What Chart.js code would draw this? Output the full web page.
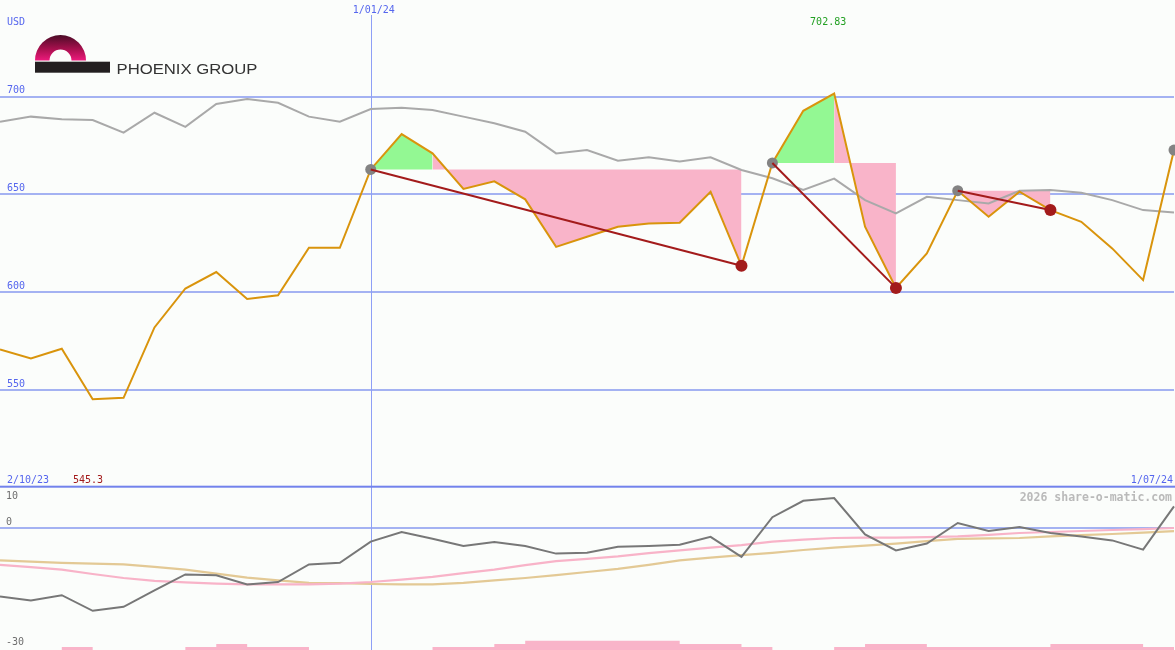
<!DOCTYPE html>
<html>
<head>
<meta charset="utf-8">
<script src="https://cdn.jsdelivr.net/npm/chart.js@4.4.1/dist/chart.umd.min.js"></script>
<style>
html,body{margin:0;padding:0;background:#fbfdfb;}
#wrap{position:relative;width:1175px;height:650px;overflow:hidden;background:#fbfdfb;}
#top{position:absolute;left:0;top:0;width:1175px;height:485px;}
#bot{position:absolute;left:0;top:485px;width:1175px;height:165px;}
#logo{position:absolute;left:0;top:0;}
</style>
</head>
<body>
<div id="wrap">
<canvas id="top" width="1175" height="485"></canvas>
<canvas id="bot" width="1175" height="165"></canvas>
<svg id="logo" width="280" height="85" viewBox="0 0 280 85">
  <defs>
    <linearGradient id="arch" x1="0" y1="35" x2="0" y2="60.5" gradientUnits="userSpaceOnUse">
      <stop offset="0" stop-color="#4a0c26"/>
      <stop offset="0.55" stop-color="#a8104e"/>
      <stop offset="1" stop-color="#ec1a7c"/>
    </linearGradient>
  </defs>
  <path d="M35,60.5 A25.5,25.5 0 0 1 86,60.5 L71.5,60.5 A11,11 0 0 0 49.5,60.5 Z" fill="url(#arch)"/>
  <rect x="35" y="61.7" width="75" height="11" fill="#231f20"/>
  <text x="116.5" y="74" font-family="Liberation Sans, Arial, sans-serif" font-size="15.5" fill="#333333" textLength="141" lengthAdjust="spacingAndGlyphs">PHOENIX GROUP</text>
</svg>
</div>
<script>
// ---------- data ----------
const categories = ['0','1','2','3','4','5','6','7','8','9','10','11','12','13','14','15','16','17','18','19',
  '20','21','22','23','24','25','26','27','28','29','30','31','32','33','34','35','36','37','38'];
const close = [570.7, 566.1, 571.1, 545.3, 546.0, 582.0, 601.9, 610.3, 596.5, 598.4, 622.7, 622.7,
  662.8, 680.9, 671.0, 652.8, 656.7, 647.5, 623.2, 628.4, 633.5, 635.2, 635.5, 651.4, 613.5,
  666.1, 692.8, 701.6, 633.5, 602.2, 619.8, 651.9, 638.6, 651.4, 642.0, 636.0, 622.4, 606.2, 672.7];
const movingAvg = [687.2, 689.8, 688.4, 688.1, 681.6, 691.8, 684.6, 696.3, 698.8, 696.9, 689.8, 687.2,
  693.7, 694.4, 693.2, 689.8, 686.4, 682.1, 671.0, 672.7, 667.2, 669.0, 666.9, 669.0, 662.5,
  658.3, 652.3, 658.1, 647.1, 640.3, 648.8, 647.1, 645.4, 651.9, 652.3, 650.9, 647.1, 642.0, 640.8];
const oscillator = [-17.1, -18.1, -16.8, -20.7, -19.7, -15.6, -11.6, -11.8, -14.1, -13.5, -9.1, -8.7,
  -3.4, -1.0, -2.7, -4.5, -3.5, -4.5, -6.4, -6.2, -4.7, -4.5, -4.2, -2.2, -7.2,
  2.7, 6.8, 7.5, -1.6, -5.6, -3.9, 1.25, -0.75, 0.25, -1.25, -2.1, -3.1, -5.4, 5.4];
const signalPink = [-9.2, -9.8, -10.4, -11.5, -12.5, -13.2, -13.6, -13.9, -14.1, -14.1, -14.1, -13.9,
  -13.5, -12.9, -12.2, -11.3, -10.4, -9.3, -8.3, -7.7, -7.1, -6.3, -5.6, -4.9, -4.3,
  -3.4, -2.9, -2.5, -2.4, -2.4, -2.3, -2.1, -1.7, -1.25, -1.0, -0.75, -0.5, -0.3, 0.0];
const signalTan = [-8.1, -8.4, -8.7, -8.9, -9.1, -9.7, -10.4, -11.4, -12.4, -13.1, -13.7, -13.8,
  -14.0, -14.1, -14.1, -13.7, -13.1, -12.5, -11.8, -11.0, -10.2, -9.2, -8.1, -7.4, -6.8,
  -6.2, -5.5, -4.9, -4.4, -3.9, -3.3, -2.7, -2.6, -2.5, -2.1, -1.8, -1.5, -1.15, -0.8];
// one value per interval between consecutive points (38 intervals)
const barValues = [0,0,1,0,0,0,1,2,1,1, 0,0,0,0,1,1,2,3,3,3, 3,3,2,2,1,0,0,1,2,2, 1,1,1,1,2,2,2,1];

const peaks = [12, 25, 31, 38];
const troughs = [24, 29, 34];
const trendSegments = [[12, 24], [25, 29], [31, 34]];
const greenZones = [{from: 12, to: 14, base: 12}, {from: 25, to: 27, base: 25}];
const pinkZones = [{from: 14, to: 24, base: 12}, {from: 27, to: 29, base: 25}, {from: 31, to: 34, base: 31}];

const priceTicks = [550, 600, 650, 700];
const oscTicks = [0, -30];
const oscTopTicks = [10];
const periodHigh = 702.83, periodHighIndex = 27;
const periodLow = 545.3;
const dateLabels = [{at: 0, text: '2/10/23'}, {at: 12, text: '1/01/24'}, {at: 38, text: '1/07/24'}];
const markIndex = 12;
const currency = 'USD';
const credit = '2026 share-o-matic.com';

// ---------- helpers ----------
const only = (arr, a, b) => arr.map((v, i) => (i >= a && i <= b) ? v : null);
const pick = (arr, idx) => arr.map((v, i) => idx.includes(i) ? v : null);
const noPad = s => { s.width = 0; s.paddingTop = 0; s.paddingBottom = 0; s.paddingLeft = 0; s.paddingRight = 0; };

const MONO = 'DejaVu Sans Mono';
const BLUE = '#5566ee';
const GREEN = '#93f893';
const PINK = '#f9b4c9';
const DARKRED = '#a31b1b';
const MARKLINE = '#8e9ff6';

// ---------- top chart ----------
const topDatasets = [];
greenZones.forEach(z => topDatasets.push({
  data: only(close, z.from, z.to), fill: {value: close[z.base]}, backgroundColor: GREEN,
  borderWidth: 0, pointRadius: 0, order: 10
}));
pinkZones.forEach(z => topDatasets.push({
  data: only(close, z.from, z.to), fill: {value: close[z.base]}, backgroundColor: PINK,
  borderWidth: 0, pointRadius: 0, order: 10
}));
topDatasets.push({data: movingAvg, borderColor: '#a9a9a9', borderWidth: 2, pointRadius: 0, fill: false, order: 6});
topDatasets.push({data: close, borderColor: '#d9940c', borderWidth: 2, pointRadius: 0, fill: false, order: 5});
topDatasets.push({data: pick(close, peaks), showLine: false, pointRadius: 5.5, pointBackgroundColor: '#838383',
  pointBorderWidth: 0, order: 4});
trendSegments.forEach(([a, b]) => topDatasets.push({
  data: pick(close, [a, b]), spanGaps: true, borderColor: DARKRED, borderWidth: 2, pointRadius: 0, fill: false, order: 3
}));
topDatasets.push({data: pick(close, troughs), showLine: false, pointRadius: 6, pointBackgroundColor: DARKRED,
  pointBorderWidth: 0, order: 2});

const topOverlay = {
  id: 'topOverlay',
  beforeDatasetsDraw(chart) {
    const {ctx, chartArea} = chart;
    const x = chart.scales.x.getPixelForValue(markIndex);
    ctx.save();
    ctx.fillStyle = MARKLINE;
    ctx.fillRect(Math.round(x), 15, 1, chartArea.bottom - 15);
    ctx.restore();
  },
  afterDraw(chart) {
    const {ctx} = chart;
    const xs = chart.scales.x;
    ctx.save();
    ctx.font = '10px "' + MONO + '"';
    ctx.textBaseline = 'alphabetic';
    ctx.fillStyle = BLUE;
    ctx.textAlign = 'left';
    ctx.fillText(currency, 7, 25);
    dateLabels.forEach(d => {
      const x = xs.getPixelForValue(d.at);
      if (d.at === markIndex) { ctx.textAlign = 'center'; ctx.fillText(d.text, x + 3, 13); }
      else if (d.at === 0) { ctx.textAlign = 'left'; ctx.fillText(d.text, 7, 483); }
      else { ctx.textAlign = 'right'; ctx.fillText(d.text, x - 1, 483); }
    });
    ctx.fillStyle = DARKRED;
    ctx.textAlign = 'left';
    ctx.fillText(String(periodLow), 73, 483);
    ctx.fillStyle = '#23a023';
    ctx.textAlign = 'center';
    ctx.fillText(periodHigh.toFixed(2), xs.getPixelForValue(periodHighIndex) - 6, 25);
    ctx.restore();
  }
};

new Chart(document.getElementById('top'), {
  type: 'line',
  data: {labels: categories, datasets: topDatasets},
  options: {
    responsive: false, animation: false, events: [],
    layout: {autoPadding: false, padding: {left: 0, right: 1, top: 0, bottom: 0}},
    elements: {line: {tension: 0}},
    plugins: {legend: {display: false}, tooltip: {enabled: false}},
    scales: {
      x: {type: 'category', display: false, offset: false},
      y: {
        min: 501.4, max: 749.45, position: 'left',
        afterBuildTicks: s => { s.ticks = priceTicks.map(v => ({value: v})); },
        afterFit: noPad,
        border: {display: false},
        grid: {color: '#a4b2f2', lineWidth: 2, drawTicks: false},
        ticks: {mirror: true, padding: 7, labelOffset: -6, color: BLUE, font: {family: MONO, size: 10}}
      }
    }
  },
  plugins: [topOverlay]
});

// ---------- bottom chart ----------
const botOverlay = {
  id: 'botOverlay',
  beforeDatasetsDraw(chart) {
    const {ctx, chartArea} = chart;
    const x = chart.scales.x.getPixelForValue(markIndex);
    ctx.save();
    ctx.fillStyle = MARKLINE;
    ctx.fillRect(Math.round(x), 0, 1, chartArea.bottom);
    ctx.restore();
  },
  afterDraw(chart) {
    const {ctx, width} = chart;
    ctx.save();
    ctx.fillStyle = '#7282ec';
    ctx.fillRect(0, 0.7, width, 2);
    ctx.font = 'bold 11.5px "' + MONO + '"';
    ctx.fillStyle = '#bababa';
    ctx.textAlign = 'right';
    ctx.textBaseline = 'alphabetic';
    ctx.fillText(credit, 1172, 15.5);
    ctx.restore();
  }
};

// stepped histogram: value k holds from point k to point k+1
const stepData = barValues.concat([barValues[barValues.length - 1]]);

const OSC_MIN = -30.5, OSC_MAX = 10.75;
new Chart(document.getElementById('bot'), {
  type: 'line',
  data: {
    labels: categories,
    datasets: [
      {data: stepData, yAxisID: 'yb', stepped: 'before', borderWidth: 0, borderColor: 'rgba(0,0,0,0)',
       backgroundColor: PINK, fill: 'origin', pointRadius: 0, order: 10},
      {data: signalTan, yAxisID: 'y', borderColor: '#e3c995', borderWidth: 2.2, pointRadius: 0, fill: false, order: 5},
      {data: signalPink, yAxisID: 'y', borderColor: '#f8b3c8', borderWidth: 2.2, pointRadius: 0, fill: false, order: 4},
      {data: oscillator, yAxisID: 'y', borderColor: '#777777', borderWidth: 2, pointRadius: 0, fill: false, order: 3}
    ]
  },
  options: {
    responsive: false, animation: false, events: [],
    layout: {autoPadding: false, padding: {left: 0, right: 1, top: 0, bottom: 0}},
    elements: {line: {tension: 0}},
    plugins: {legend: {display: false}, tooltip: {enabled: false}},
    scales: {
      x: {type: 'category', display: false, offset: false},
      y: {
        min: OSC_MIN, max: OSC_MAX, position: 'left',
        afterBuildTicks: s => { s.ticks = oscTicks.map(v => ({value: v})); },
        afterFit: noPad,
        border: {display: false},
        grid: {color: c => (c.tick && c.tick.value === 0) ? '#a4b2f2' : 'rgba(0,0,0,0)', lineWidth: 2, drawTicks: false},
        ticks: {mirror: true, padding: 6, labelOffset: -5.5, color: '#6e6e6e', font: {family: MONO, size: 10}}
      },
      y2: {
        min: OSC_MIN, max: OSC_MAX, position: 'left',
        afterBuildTicks: s => { s.ticks = oscTopTicks.map(v => ({value: v})); },
        afterFit: noPad,
        border: {display: false},
        grid: {display: false, drawTicks: false},
        ticks: {mirror: true, padding: 6, labelOffset: 8.5, color: '#6e6e6e', font: {family: MONO, size: 10}}
      },
      yb: {min: 0, max: 54, display: false}
    }
  },
  plugins: [botOverlay]
});
</script>
</body>
</html>
